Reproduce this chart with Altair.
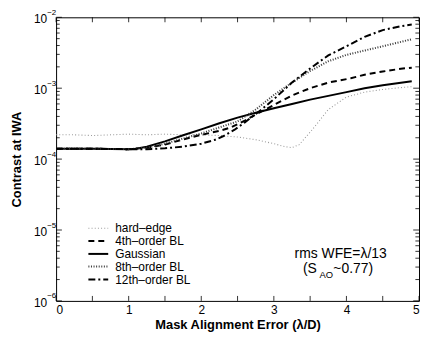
import altair as alt
import pandas as pd

# ---- data ----
hard_x = [0, 0.25, 0.5, 0.75, 1.0, 1.25, 1.5, 1.75, 2.0, 2.25, 2.5, 2.75, 3.0, 3.15, 3.25, 3.35, 3.5, 3.6, 3.75, 4.0, 4.25, 4.5, 4.75, 4.9]
hard_y = [2.2e-4, 2.2e-4, 2.15e-4, 2.2e-4, 2.25e-4, 2.2e-4, 2.25e-4, 2.2e-4, 2.2e-4, 2.15e-4, 2.05e-4, 1.88e-4, 1.65e-4, 1.5e-4, 1.45e-4, 1.6e-4, 2.4e-4, 3.2e-4, 5.0e-4, 7.5e-4, 8.8e-4, 9.6e-4, 1.02e-3, 1.05e-3]

gauss_x = [0, 0.5, 1.0, 1.1, 1.25, 1.5, 1.75, 2.0, 2.25, 2.5, 2.75, 3.0, 3.25, 3.5, 3.75, 4.0, 4.25, 4.5, 4.75, 4.9]
gauss_y = [1.4e-4, 1.4e-4, 1.38e-4, 1.4e-4, 1.5e-4, 1.78e-4, 2.17e-4, 2.63e-4, 3.2e-4, 3.85e-4, 4.5e-4, 5.2e-4, 6.0e-4, 6.9e-4, 7.8e-4, 8.8e-4, 1.0e-3, 1.1e-3, 1.19e-3, 1.25e-3]

bl4_x = [0, 0.5, 1.0, 1.25, 1.5, 1.73, 2.0, 2.25, 2.41, 2.6, 2.78, 3.0, 3.25, 3.5, 3.75, 4.06, 4.25, 4.5, 4.75, 4.9]
bl4_y = [1.4e-4, 1.4e-4, 1.38e-4, 1.45e-4, 1.6e-4, 1.87e-4, 2.2e-4, 2.5e-4, 2.8e-4, 3.5e-4, 4.4e-4, 5.8e-4, 7.9e-4, 1.0e-3, 1.2e-3, 1.38e-3, 1.55e-3, 1.72e-3, 1.88e-3, 1.95e-3]

bl8_x = [0, 0.5, 1.0, 1.25, 1.5, 1.75, 2.0, 2.25, 2.5, 2.75, 3.0, 3.25, 3.5, 3.75, 4.0, 4.25, 4.5, 4.75, 4.9]
bl8_y = [1.4e-4, 1.4e-4, 1.38e-4, 1.45e-4, 1.65e-4, 1.95e-4, 2.3e-4, 2.8e-4, 3.4e-4, 5.0e-4, 8.0e-4, 1.2e-3, 1.75e-3, 2.4e-3, 2.95e-3, 3.4e-3, 3.9e-3, 4.5e-3, 4.9e-3]

bl12_x = [0, 0.5, 1.0, 1.25, 1.5, 1.75, 2.0, 2.19, 2.3, 2.46, 2.6, 2.83, 3.0, 3.25, 3.5, 3.75, 4.0, 4.25, 4.5, 4.75, 4.9]
bl12_y = [1.4e-4, 1.4e-4, 1.38e-4, 1.38e-4, 1.42e-4, 1.5e-4, 1.65e-4, 1.87e-4, 2.1e-4, 2.6e-4, 3.3e-4, 5.0e-4, 7.0e-4, 1.2e-3, 1.9e-3, 2.9e-3, 3.9e-3, 5.3e-3, 6.6e-3, 7.5e-3, 7.9e-3]

series_names = ["hard\u2013edge", "4th\u2013order BL", "Gaussian", "8th\u2013order BL", "12th\u2013order BL"]
y_decades = [-6, -5, -4, -3, -2]
x_ticks = [0, 1, 2, 3, 4, 5]
x_minor = [0.5, 1.5, 2.5, 3.5, 4.5]

legend_x = [0.445, 0.718]
legend_text_x = 0.814
legend_y = [1.06e-5, 7.0e-6, 4.6e-6, 3.05e-6, 2.0e-6]

annot_texts = ["rms WFE=\u03bb/13", "(S", "AO", "~0.77)"]
annot_x = [3.92, 3.40, 3.63, 3.82]
annot_y = [4.6e-6, 2.85e-6, 2.35e-6, 2.85e-6]

# ---- styles ----
styles = [
    dict(color="#9a9a9a", strokeWidth=1.1, strokeDash=[1, 2.2]),
    dict(color="black", strokeWidth=2, strokeDash=[6, 4]),
    dict(color="black", strokeWidth=2),
    dict(color="#3a3a3a", strokeWidth=2, strokeDash=[1, 1.6]),
    dict(color="black", strokeWidth=2, strokeDash=[7, 3, 2, 3]),
]
annot_size = [14, 14, 9.5, 14]
annot_align = ["center", "left", "left", "left"]

FONT = "Liberation Sans"
xs = alt.Scale(domain=[0, 5], nice=False, zero=False)
ys = alt.Scale(type="log", domain=[1e-6, 1e-2], nice=False)

XAX = alt.Axis(values=x_ticks, format="d", ticks=False, domain=False, grid=False,
               labelFont=FONT, labelFontSize=12, labelPadding=4, labelColor="black",
               title="Mask Alignment Error (\u03bb/D)", titleFont=FONT, titleFontSize=13,
               titleFontWeight="bold", titlePadding=3, titleColor="black")
YAX = alt.Axis(labels=False, ticks=False, domain=False, grid=False,
               title="Contrast at IWA", titleFont=FONT, titleFontSize=13,
               titleFontWeight="bold", titlePadding=33, titleColor="black")


def X(f):
    return alt.X(f, type="quantitative", scale=xs, axis=XAX, title="Mask Alignment Error (\u03bb/D)")


def Y(f):
    return alt.Y(f, type="quantitative", scale=ys, axis=YAX, title="Contrast at IWA")


series_data = [(hard_x, hard_y), (bl4_x, bl4_y), (gauss_x, gauss_y), (bl8_x, bl8_y), (bl12_x, bl12_y)]

PLOT_H = 286
layers = []
for name, (sx, sy), st in zip(series_names, series_data, styles):
    df = pd.DataFrame({"x": sx, "y": sy})
    layers.append(alt.Chart(df).mark_line(clip=True, **st).encode(x=X("x"), y=Y("y")))

# ticks inside on all four sides
major_len_x = 0.08
minor_len_x = 0.05
ytick_rows = []
for d in y_decades:
    ytick_rows.append({"y": 10.0 ** d, "len": major_len_x})
    if d < -2:
        for m in range(2, 10):
            ytick_rows.append({"y": m * 10.0 ** d, "len": minor_len_x})
yt = pd.DataFrame(ytick_rows)
yt["x0l"] = 0.0
yt["x1l"] = yt["len"]
yt["x0r"] = 5.0
yt["x1r"] = 5.0 - yt["len"]
for a, b in [("x0l", "x1l"), ("x0r", "x1r")]:
    layers.append(alt.Chart(yt).mark_rule(color="black", strokeWidth=0.8).encode(
        x=X(a), x2=f"{b}:Q", y=Y("y")))

fac = 10 ** (5 / (PLOT_H / 4))
xt = pd.DataFrame({"x": x_ticks + x_minor})
xt["b0"] = 1e-6
xt["b1"] = 1e-6 * fac
xt["t0"] = 1e-2
xt["t1"] = 1e-2 / fac
for a, b in [("b0", "b1"), ("t0", "t1")]:
    layers.append(alt.Chart(xt).mark_rule(color="black", strokeWidth=0.8).encode(
        x=X("x"), y=Y(a), y2=f"{b}:Q"))

# y tick labels 10^k
yl = pd.DataFrame({"y": [10.0 ** d for d in y_decades],
                   "base": ["10"] * len(y_decades),
                   "exp": ["\u2212%d" % (-d) for d in y_decades],
                   "x": [0.0] * len(y_decades)})
layers.append(alt.Chart(yl).mark_text(align="right", baseline="middle", dx=-9, dy=2,
                                      font=FONT, fontSize=12, color="black").encode(
    x=X("x"), y=Y("y"), text="base:N"))
layers.append(alt.Chart(yl).mark_text(align="left", baseline="middle", dx=-9, dy=-4.5,
                                      font=FONT, fontSize=8, color="black").encode(
    x=X("x"), y=Y("y"), text="exp:N"))

# legend
for name, ly, st in zip(series_names, legend_y, styles):
    ldf = pd.DataFrame({"x": legend_x, "y": [ly, ly]})
    layers.append(alt.Chart(ldf).mark_line(**st).encode(x=X("x"), y=Y("y")))
leg = pd.DataFrame({"x": [legend_text_x] * 5, "y": legend_y, "t": series_names})
layers.append(alt.Chart(leg).mark_text(align="left", baseline="middle", font=FONT,
                                       fontSize=12, color="black").encode(
    x=X("x"), y=Y("y"), text="t:N"))

# annotation
for t, ax, ay, sz, al in zip(annot_texts, annot_x, annot_y, annot_size, annot_align):
    r = pd.DataFrame({"x": [ax], "y": [ay], "t": [t]})
    layers.append(alt.Chart(r).mark_text(align=al, baseline="middle", font=FONT,
                                         fontSize=sz, color="black").encode(
        x=X("x"), y=Y("y"), text="t:N"))

chart = alt.layer(*layers).properties(
    width=366, height=PLOT_H,
    autosize=alt.AutoSizeParams(type="none"),
    padding={"left": 48.5, "top": 8, "right": 2, "bottom": 32},
    background="white",
).configure_view(stroke="black", strokeWidth=1)

chart.save("out.html", embed_options={"renderer": "svg", "actions": False})
